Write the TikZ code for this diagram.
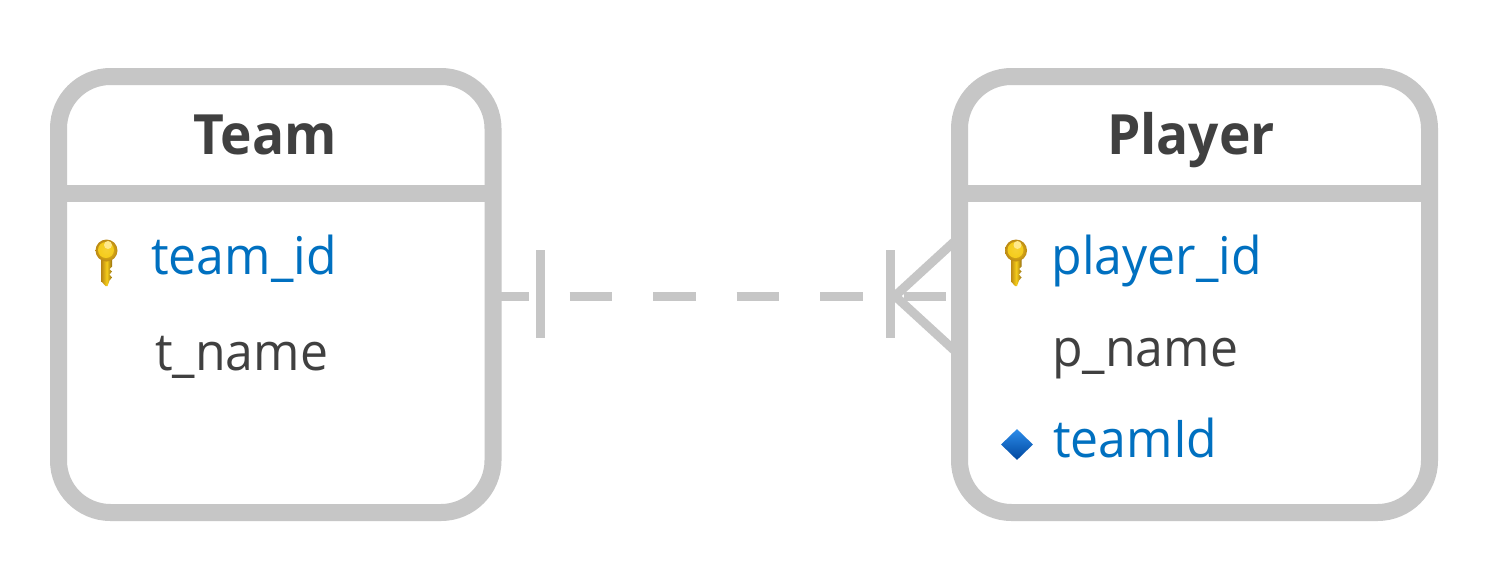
\documentclass[tikz,border=0pt]{standalone}
\usepackage{fontspec}
\setmainfont[FakeStretch=0.96]{Open Sans}
\usetikzlibrary{shapes.geometric}
\definecolor{edge}{HTML}{C6C6C6}
\definecolor{ink}{HTML}{404040}
\definecolor{link}{HTML}{0070C0}
\definecolor{keymid}{HTML}{F5CC1A}
\definecolor{keydark}{HTML}{BC8A14}
\definecolor{keylight}{HTML}{FFE98A}
\definecolor{fktop}{HTML}{2C8CEA}
\definecolor{fkbot}{HTML}{00479E}
\tikzset{
  x=1pt,y=-1pt,
  entity/.style={draw=edge,line width=17pt,rounded corners=52pt,fill=white,inner sep=0pt,outer sep=0pt,anchor=north west},
  title/.style={text=ink,font=\fontsize{55.5}{56}\selectfont\bfseries,anchor=base,inner sep=0pt},
  plain/.style={text=ink,font=\fontsize{52}{52}\selectfont,anchor=base west,inner sep=0pt},
  keyfield/.style={text=link,font=\fontsize{52}{52}\selectfont,anchor=base west,inner sep=0pt},
  rule/.style={draw=edge,line width=17pt},
  rel/.style={draw=edge,line width=9pt},
  pics/keyicon/.style={code={
    \path[left color=keydark,right color=keydark!80!black,middle color=keymid]
      (-5,8) -- (5.5,8) -- (5.5,16) -- (3,18.5) -- (5.5,21) -- (3,24) -- (5.5,27) -- (3,30) -- (1,35.5) -- (-1,35.5) -- (-5,31) -- cycle;
    \shade[inner color=keymid,outer color=keydark] (0,0) circle[radius=11];
    \shade[inner color=keymid!90!white,outer color=keymid] (-.5,-.5) circle[radius=8];
    \fill[keylight] (1.5,-5.5) circle[radius=4];
  }}
}
\begin{document}
\begin{tikzpicture}
\useasboundingbox[fill=white] (0,0) rectangle (1502,574);
% entities
\node[entity,minimum width=434.5pt,minimum height=436pt] (team) at (58.5,76.5) {};
\node[entity,minimum width=470pt,minimum height=436pt] (player) at (959.5,76.5) {};
\coordinate (teamHL) at (58.5,193.5);
\coordinate (teamHR) at (493,193.5);
\coordinate (playerHL) at (959.5,193.5);
\coordinate (playerHR) at (1429.5,193.5);
\draw[rule] (teamHL) -- (teamHR);
\draw[rule] (playerHL) -- (playerHR);
% connector
\coordinate (teamPort) at (493,296);
\coordinate (playerPort) at (959.5,296);
\coordinate (oneBarA) at (540.5,250);
\coordinate (oneBarB) at (540.5,338);
\coordinate (manyBarA) at (890.5,250);
\coordinate (manyBarB) at (890.5,338);
\coordinate (crowTip) at (895,296);
\coordinate (crowA) at (955,241);
\coordinate (crowB) at (955,351);
\draw[rel,dash pattern=on 42.5pt off 41pt,dash phase=7pt] (teamPort) -- (playerPort);
\draw[rel] (oneBarA) -- (oneBarB);
\draw[rel] (manyBarA) -- (manyBarB);
\draw[rel] (crowA) -- (crowTip) -- (crowB);
% titles
\node[title] (teamTitle) at (265,154.5) {Team};
\node[title] (playerTitle) at (1191,154.5) {Player};
% fields
\node[keyfield] (teamId) at (151,274) {team\_id};
\node[plain] (tName) at (155,370) {t\_name};
\node[keyfield] (playerId) at (1051.5,274) {player\_id};
\node[plain] (pName) at (1052,366) {p\_name};
\node[keyfield] (teamFk) at (1053,457.5) {teamId};
% icons
\pic at (106.5,250.5) {keyicon};
\pic at (1016,250.5) {keyicon};
\node[diamond,draw=none,inner sep=0pt,minimum width=32pt,minimum height=31pt,shape aspect=1,top color=fktop,bottom color=fkbot] (fkIcon) at (1017,444.5) {};
\end{tikzpicture}
\end{document}
